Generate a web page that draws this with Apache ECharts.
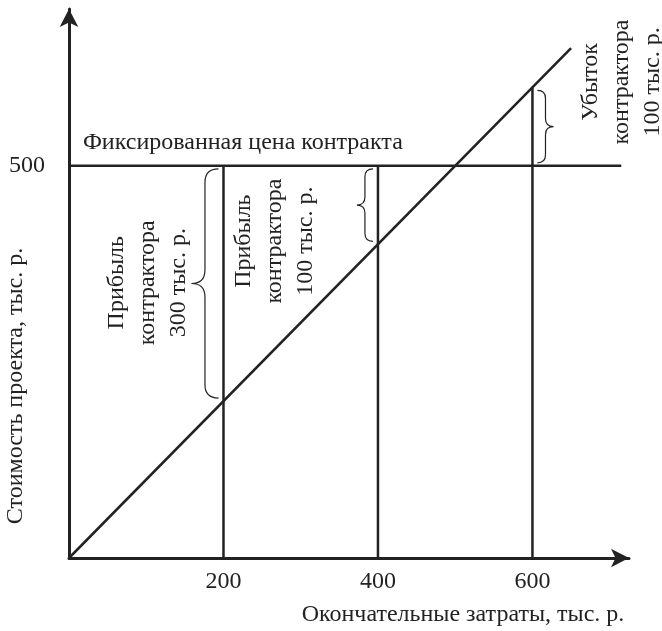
<!doctype html>
<html>
<head>
<meta charset="utf-8">
<title>Фиксированная цена контракта</title>
<script src="https://cdn.jsdelivr.net/npm/echarts@6/dist/echarts.min.js"></script>
<style>
  html, body { margin: 0; padding: 0; background: #fff; }
  #main { width: 662px; height: 631px; }
</style>
</head>
<body>
<div id="main"></div>
<script type="text/javascript">
// данные
var xTickValues = [200, 400, 600];
var yTickValues = [500];
var costLineX = [0, 650];          // стоимость = затраты
var costLineY = [0, 650];
var fixedPrice = 500;
var priceLineEnd = 715;
var finalCosts = [200, 400, 600];   // вертикальные линии
var finalCostTops = [500, 500, 600];
var braceCost = [200, 400, 600];
var braceFrom = [200, 400, 500];
var braceTo = [500, 500, 600];
var braceSide = [-1, -1, 1];
var noteTexts = ['Прибыль\nконтрактора\n300 тыс. р.', 'Прибыль\nконтрактора\n100 тыс. р.', 'Убыток\nконтрактора\n100 тыс. р.'];
var noteX = [102, 266, 715];
var noteY = [351, 404, 607];
var priceText = 'Фиксированная цена контракта';
var xTitle = 'Окончательные затраты, тыс. р.';
var yTitle = 'Стоимость проекта, тыс. р.';

var ink = '#222';
var font = '24px "Liberation Serif"';

var myChart = echarts.init(document.getElementById('main'));

var series = [];
series.push({
  type: 'line', symbol: 'none', silent: true,
  data: costLineX.map(function (x, i) { return [x, costLineY[i]]; }),
  lineStyle: { color: ink, width: 2.5 }
});
series.push({
  type: 'line', symbol: 'none', silent: true,
  data: [[0, fixedPrice], [priceLineEnd, fixedPrice]],
  lineStyle: { color: ink, width: 2.5 }
});
finalCosts.forEach(function (c, i) {
  series.push({
    type: 'line', symbol: 'none', silent: true,
    data: [[c, 0], [c, finalCostTops[i]]],
    lineStyle: { color: ink, width: 2.5 }
  });
});

// фигурные скобки
series.push({
  type: 'custom', silent: true,
  data: braceCost.map(function (c, i) { return [c, braceFrom[i], braceTo[i], braceSide[i]]; }),
  renderItem: function (params, api) {
    var lo = api.coord([api.value(0), api.value(1)]);
    var hi = api.coord([api.value(0), api.value(2)]);
    var d = api.value(3);
    var y1 = hi[1] + 3, y2 = lo[1] - 3;
    var len = y2 - y1;
    var w = 11 + len * 0.07;
    var x0 = lo[0] + d * 5;
    var xb = x0 + d * w / 2, xt = x0 + d * w;
    var ym = (y1 + y2) / 2, r = w / 2;
    var p = 'M' + x0 + ' ' + y1 +
      ' Q' + xb + ' ' + y1 + ' ' + xb + ' ' + (y1 + r) +
      ' L' + xb + ' ' + (ym - r) +
      ' Q' + xb + ' ' + ym + ' ' + xt + ' ' + ym +
      ' Q' + xb + ' ' + ym + ' ' + xb + ' ' + (ym + r) +
      ' L' + xb + ' ' + (y2 - r) +
      ' Q' + xb + ' ' + y2 + ' ' + x0 + ' ' + y2;
    return {
      type: 'path',
      shape: { pathData: p },
      style: { stroke: ink, lineWidth: 1.2, fill: null }
    };
  }
});

// подписи
series.push({
  type: 'custom', silent: true,
  data: noteX.map(function (x, i) { return [x, noteY[i], i]; }),
  renderItem: function (params, api) {
    var p = api.coord([api.value(0), api.value(1)]);
    return {
      type: 'text', x: p[0], y: p[1], rotation: Math.PI / 2,
      style: {
        text: noteTexts[api.value(2)], font: font, fill: ink,
        align: 'center', verticalAlign: 'middle', lineHeight: 31
      }
    };
  }
});
series.push({
  type: 'custom', silent: true,
  data: [[18, 529]],
  renderItem: function (params, api) {
    var p = api.coord([api.value(0), api.value(1)]);
    return {
      type: 'text', x: p[0], y: p[1],
      style: { text: priceText, font: font, fill: ink, align: 'left', verticalAlign: 'middle' }
    };
  }
});

var option = {
  animation: false,
  grid: { left: 69, right: 33, top: 9, bottom: 73 },
  xAxis: {
    type: 'value', min: 0, max: 725, interval: 200,
    axisLine: { lineStyle: { color: ink, width: 3 }, symbol: ['none', 'arrow'], symbolSize: [14, 18] },
    axisTick: { show: false },
    splitLine: { show: false },
    axisLabel: {
      color: ink, fontFamily: 'Liberation Serif', fontSize: 24, margin: 12,
      formatter: function (v) { return xTickValues.indexOf(v) >= 0 ? String(v) : ''; }
    }
  },
  yAxis: {
    type: 'value', min: 0, max: 700, interval: 500,
    axisLine: { lineStyle: { color: ink, width: 3 }, symbol: ['none', 'arrow'], symbolSize: [14, 18] },
    axisTick: { show: false },
    splitLine: { show: false },
    axisLabel: {
      color: ink, fontFamily: 'Liberation Serif', fontSize: 24, margin: 24,
      formatter: function (v) { return yTickValues.indexOf(v) >= 0 ? String(v) : ''; }
    }
  },
  graphic: [
    { type: 'text', x: 463, y: 615, style: { text: xTitle, font: font, fill: ink, align: 'center', verticalAlign: 'middle' } },
    { type: 'text', x: 16, y: 386, rotation: Math.PI / 2, style: { text: yTitle, font: font, fill: ink, align: 'center', verticalAlign: 'middle' } }
  ],
  series: series
};

myChart.setOption(option);
</script>
</body>
</html>
